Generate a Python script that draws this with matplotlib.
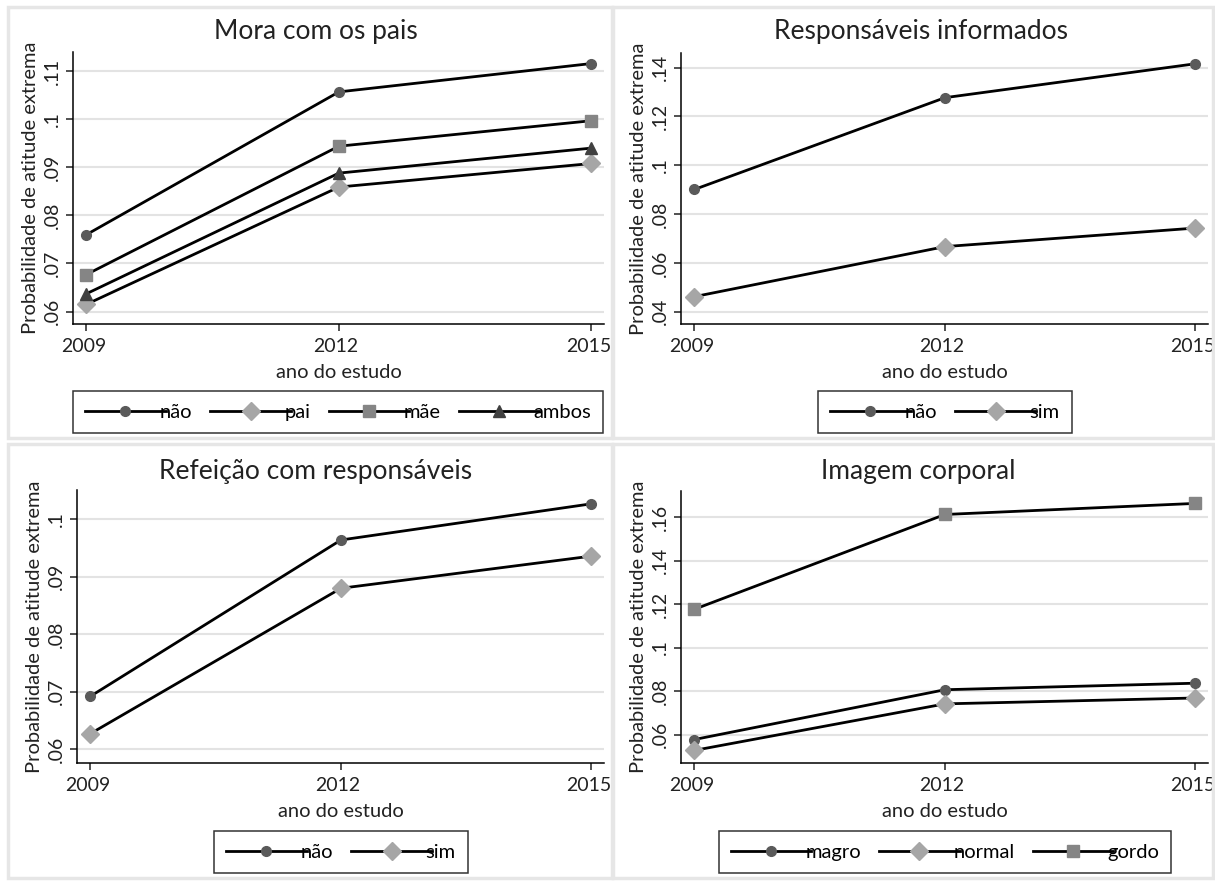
import matplotlib
matplotlib.use("Agg")
import matplotlib.pyplot as plt
import matplotlib.transforms as mtransforms
from matplotlib.patches import Rectangle

plt.rcParams['font.family'] = ['Lato', 'DejaVu Sans']

# Data
anos = [2009, 2012, 2015]

mora_nao = [0.0760, 0.1057, 0.1116]
mora_pai = [0.0615, 0.0859, 0.0908]
mora_mae = [0.0677, 0.0944, 0.0997]
mora_ambos = [0.0637, 0.0888, 0.0940]

resp_nao = [0.0901, 0.1277, 0.1416]
resp_sim = [0.0462, 0.0667, 0.0743]

refe_nao = [0.0692, 0.0964, 0.1027]
refe_sim = [0.0627, 0.0880, 0.0936]

img_magro = [0.0577, 0.0806, 0.0836]
img_normal = [0.0527, 0.0741, 0.0768]
img_gordo = [0.1176, 0.1612, 0.1663]

titulos = ["Mora com os pais", "Responsáveis informados",
           "Refeição com responsáveis", "Imagem corporal"]

# marker styles (Stata s2mono-like)
estilo = {
    'circ': dict(marker='o', markersize=7, markerfacecolor='#5a5a5a', markeredgecolor='#5a5a5a'),
    'diam': dict(marker='D', markersize=9, markerfacecolor='#a6a6a6', markeredgecolor='#a6a6a6'),
    'quad': dict(marker='s', markersize=8, markerfacecolor='#858585', markeredgecolor='#858585'),
    'tri': dict(marker='^', markersize=8.5, markerfacecolor='#404040', markeredgecolor='#404040'),
}

W, H = 1215, 881
fig = plt.figure(figsize=(W / 100, H / 100), dpi=100)

# panel frames
for (x0, y0, x1, y1) in [(8, 7, 612, 438), (613, 7, 1213, 438),
                         (8, 444, 612, 878), (613, 444, 1213, 878)]:
    fig.patches.append(Rectangle((x0 / W, 1 - y1 / H), (x1 - x0) / W, (y1 - y0) / H,
                                 transform=fig.transFigure, fill=False,
                                 edgecolor='#e6e6e6', linewidth=2.5))

# x tick labels sit a little left of their ticks, and below them
shift = mtransforms.ScaledTranslation(-3 / 100, -14 / 100, fig.dpi_scale_trans)


def painel(px, title, title_xy, series, ylim, yticks, leg_center, ncol):
    l, r, t, b = px
    ax = fig.add_axes([l / W, 1 - b / H, (r - l) / W, (b - t) / H])
    for vals, lab, st in series:
        ax.plot(anos, vals, color='black', linewidth=2.0, label=lab, **estilo[st])
    ax.set_xlim(2008.84, 2015.15)
    ax.set_ylim(*ylim)
    ax.set_xticks(anos)
    ax.set_xticklabels([])
    for a in anos:
        ax.text(a, 0, str(a), transform=ax.get_xaxis_transform() + shift,
                ha='center', va='top', fontsize=14, color='#222222')
    ax.set_yticks(yticks)
    ax.set_yticklabels([('%g' % v).lstrip('0') for v in yticks],
                       rotation=90, va='center')
    ax.yaxis.grid(True, color='#e3e3e3', linewidth=1.5)
    ax.set_axisbelow(True)
    for s in ['top', 'right']:
        ax.spines[s].set_visible(False)
    for s in ['left', 'bottom']:
        ax.spines[s].set_linewidth(1.1)
    ax.tick_params(axis='both', length=5, width=1.1, labelsize=14, colors='#222222')
    ax.tick_params(axis='y', pad=4)
    fig.text(title_xy[0] / W, 1 - title_xy[1] / H, title, fontsize=19,
             color='#222222', ha='center', va='center')
    ax.set_xlabel("ano do estudo", fontsize=14.5, labelpad=20, color='#222222')
    ax.set_ylabel("Probabilidade de atitude extrema", fontsize=14.5, labelpad=3, color='#222222')
    leg = ax.legend(loc='center', bbox_to_anchor=(leg_center[0] / W, 1 - leg_center[1] / H),
                    bbox_transform=fig.transFigure, ncol=ncol, fontsize=14.5,
                    frameon=True, fancybox=False, edgecolor='black',
                    handlelength=4.0, handletextpad=-0.3, columnspacing=0.9,
                    borderpad=0.6)
    leg.get_frame().set_linewidth(1.1)
    return ax


painel((73, 604, 52, 324), titulos[0], (316, 32),
       [(mora_nao, 'não', 'circ'), (mora_pai, 'pai', 'diam'),
        (mora_mae, 'mãe', 'quad'), (mora_ambos, 'ambos', 'tri')],
       (0.0574, 0.114), [0.06, 0.07, 0.08, 0.09, 0.10, 0.11], (338, 412), 4)

painel((681, 1208, 53, 324), titulos[1], (921, 32),
       [(resp_nao, 'não', 'circ'), (resp_sim, 'sim', 'diam')],
       (0.035, 0.146), [0.04, 0.06, 0.08, 0.10, 0.12, 0.14], (945, 412), 2)

painel((77, 604, 490, 763), titulos[2], (316, 472),
       [(refe_nao, 'não', 'circ'), (refe_sim, 'sim', 'diam')],
       (0.0576, 0.1051), [0.06, 0.07, 0.08, 0.09, 0.10], (341, 852), 2)

painel((681, 1208, 491, 763), titulos[3], (918, 472),
       [(img_magro, 'magro', 'circ'), (img_normal, 'normal', 'diam'),
        (img_gordo, 'gordo', 'quad')],
       (0.0469, 0.172), [0.06, 0.08, 0.10, 0.12, 0.14, 0.16], (945, 852), 3)

fig.savefig("out.png", dpi=100)
